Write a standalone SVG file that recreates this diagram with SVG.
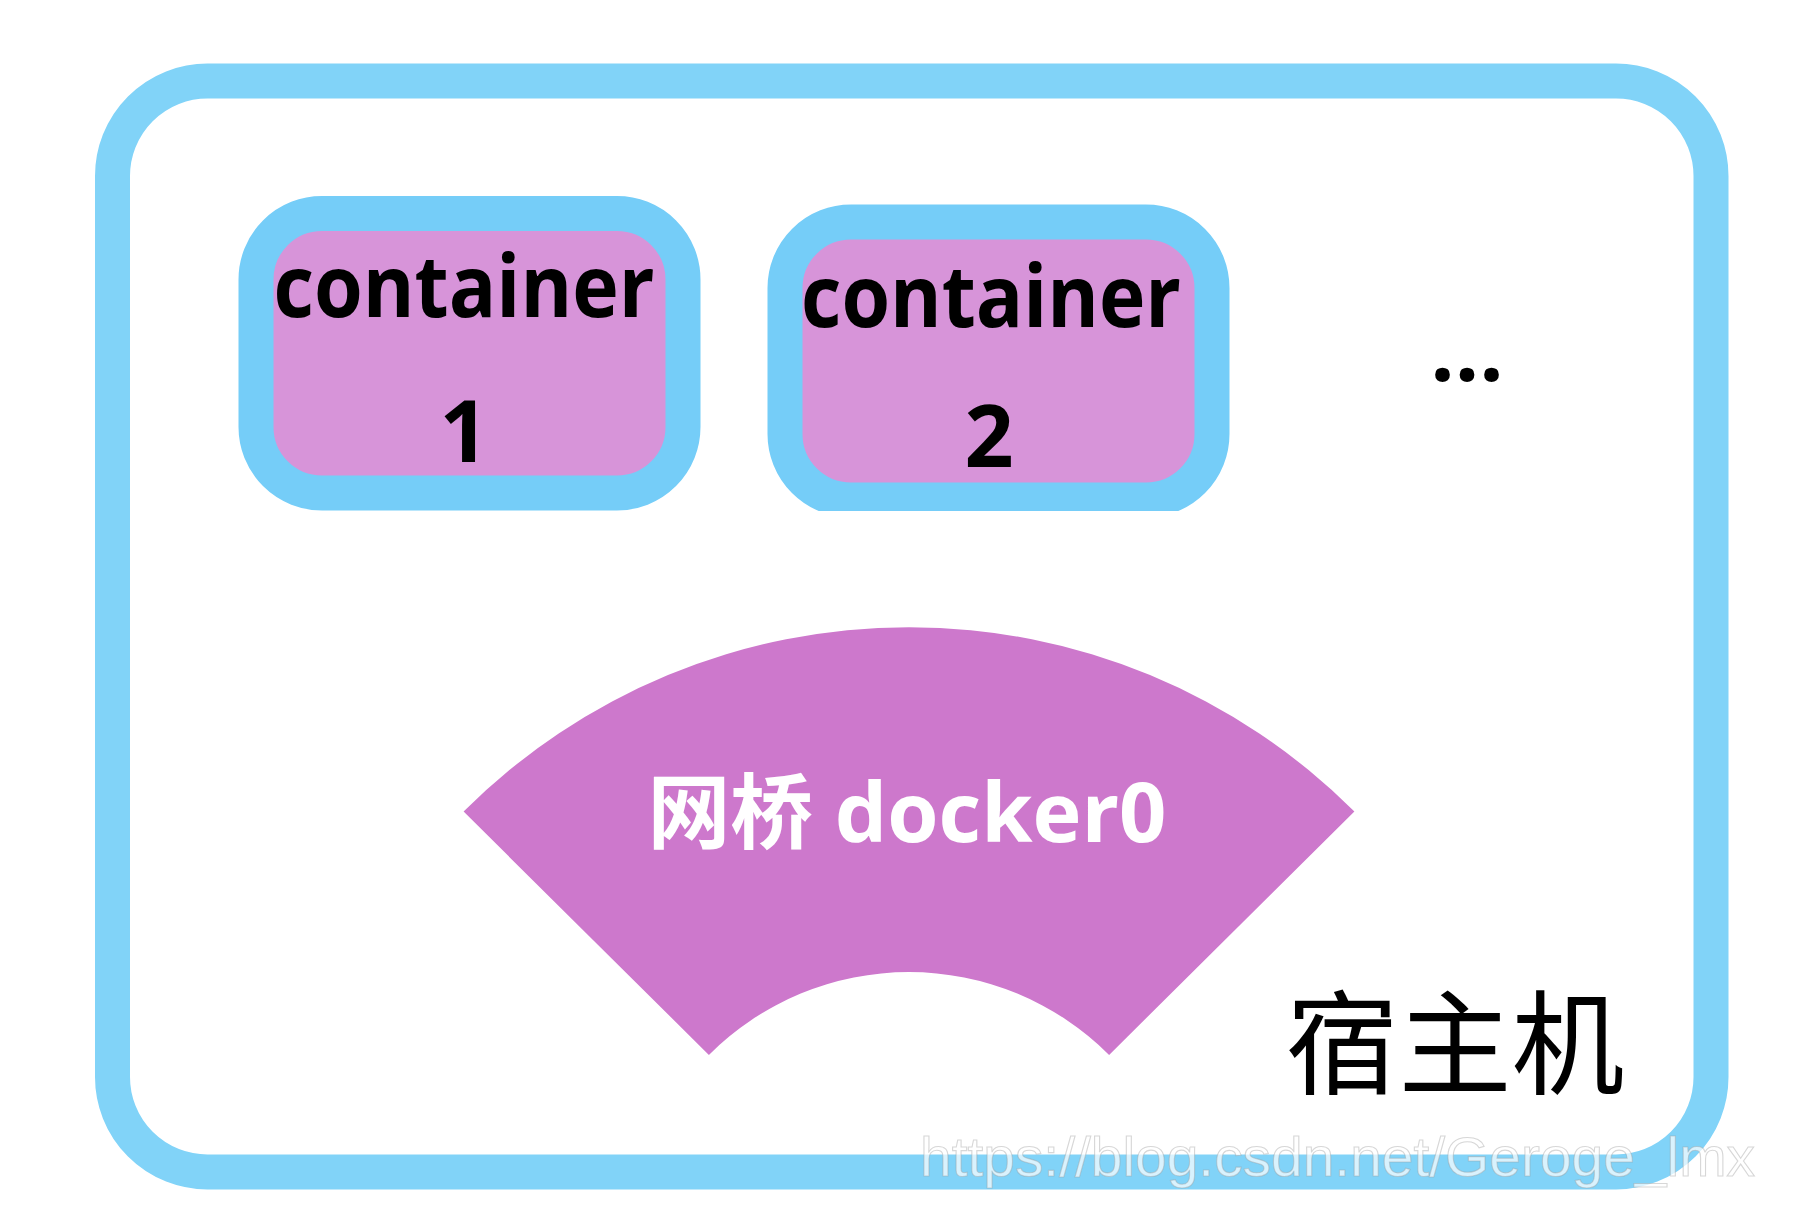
<svg xmlns="http://www.w3.org/2000/svg" width="1810" height="1214" viewBox="0 0 1810 1214">
  <defs>
    <style>
      .frame { fill: #ffffff; stroke: #81D3F8; stroke-width: 35; }
      .box { fill: #D794D9; stroke: #75CDF8; stroke-width: 35; }
      .lbl { font-family: "Open Sans", "Noto Sans CJK SC", sans-serif; font-weight: 700; font-size: 86px; fill: #000000; text-anchor: middle; }
      .fan { fill: #CD78CC; }
      .fanlbl { font-family: "Open Sans", "Noto Sans CJK SC", sans-serif; font-weight: 700; font-size: 82px; fill: #ffffff; text-anchor: middle; }
      .host { font-family: "Noto Sans CJK SC", sans-serif; font-weight: 400; font-size: 113px; fill: #000000; text-anchor: middle; }
      .wm { font-family: "Liberation Sans", Arial, sans-serif; font-size: 56px; fill: #ffffff; fill-opacity: 0.7; stroke: #9a9a9a; stroke-opacity: 0.4; stroke-width: 1.1; }
    </style>
    <clipPath id="clip2">
      <rect x="700" y="150" width="600" height="361"/>
    </clipPath>
  </defs>
  <rect width="1810" height="1214" fill="#ffffff"/>

  <g id="host">
    <rect class="frame" x="112.5" y="81" width="1598.5" height="1091" rx="95" ry="95"/>
    <text class="host" x="1455" y="1085">宿主机</text>
  </g>

  <g id="container1">
    <rect class="box" x="256" y="213.5" width="427" height="279.5" rx="66" ry="66"/>
    <text class="lbl" x="464" y="317" textLength="381" lengthAdjust="spacingAndGlyphs">container</text>
    <text class="lbl" x="464" y="462">1</text>
  </g>

  <g id="container2">
    <g clip-path="url(#clip2)">
      <rect class="box" x="785" y="222" width="427" height="278" rx="66" ry="66"/>
    </g>
    <text class="lbl" x="991" y="327" textLength="380" lengthAdjust="spacingAndGlyphs">container</text>
    <text class="lbl" x="989" y="467">2</text>
  </g>

  <g id="more">
    <text class="lbl" x="1467" y="381" font-size="80">...</text>
  </g>

  <g id="bridge">
    <path class="fan" d="M 463.6 811.6 A 630 630 0 0 1 1354.4 811.6 L 1109.1 1054.9 A 283 283 0 0 0 708.9 1054.9 Z"/>
    <text class="fanlbl" x="907" y="842" textLength="519" lengthAdjust="spacingAndGlyphs">网桥 docker0</text>
  </g>

  <g id="connectors"></g>

  <text class="wm" x="920" y="1176" textLength="835" lengthAdjust="spacingAndGlyphs">https://blog.csdn.net/Geroge_lmx</text>
</svg>
